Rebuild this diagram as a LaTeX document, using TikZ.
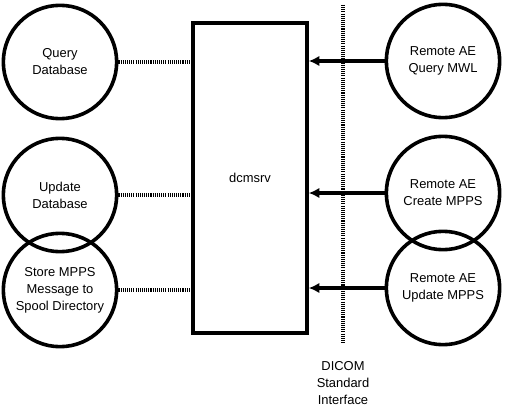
\documentclass[tikz,border=0pt]{standalone}
\usepackage{fontspec}
\setmainfont{Liberation Sans}
\usetikzlibrary{arrows.meta}
\usetikzlibrary{calc}

\tikzset{
	proc/.style={draw, circle, line width=2.7pt, minimum size=85pt, inner sep=0pt, align=center},
	srvbox/.style={draw, rectangle, line width=2.7pt, minimum width=85.5pt, minimum height=232.5pt},
	local/.style={line width=2.4pt, dash pattern=on 0.8pt off 0.8pt},
	dicom/.style={line width=2.4pt, -{Latex[length=8pt,width=8pt]}}
}

\begin{document}
\begin{tikzpicture}[x=0.75pt, y=-0.75pt, font=\fontsize{9.7}{12.8}\selectfont]

	% page frame
	\useasboundingbox (0,0) rectangle (506,410);

	% server box
	\node[srvbox] (srv) at (250,178) {dcmsrv};

	% local activities
	\node[proc] (qdb) at (60,62) {Query\\Database};
	\node[proc] (udb) at (60,195) {Update\\Database};
	\node[proc] (spool) at (60,290) {Store MPPS\\Message to\\Spool Directory};

	% remote activities
	\node[proc] (rq) at (443,61) {Remote AE\\Query MWL};
	\node[proc] (rc) at (443,193) {Remote AE\\Create MPPS};
	\node[proc] (ru) at (443,288) {Remote AE\\Update MPPS};

	% local links
	\foreach \n in {qdb,udb,spool} {
		\draw[local] (\n.east) -- (srv.west |- \n.east);
	}

	% DICOM interface
	\coordinate (itop) at (343,5);
	\coordinate (ibot) at (343,343);
	\draw[local] (itop) -- (ibot);
	\node[align=center, anchor=north] (ilabel) at (343,357) {DICOM\\Standard\\Interface};

	% remote links
	\foreach \n in {rq,rc,ru} {
		\draw[dicom] (\n.west) -- (srv.east |- \n.west);
	}

\end{tikzpicture}
\end{document}
